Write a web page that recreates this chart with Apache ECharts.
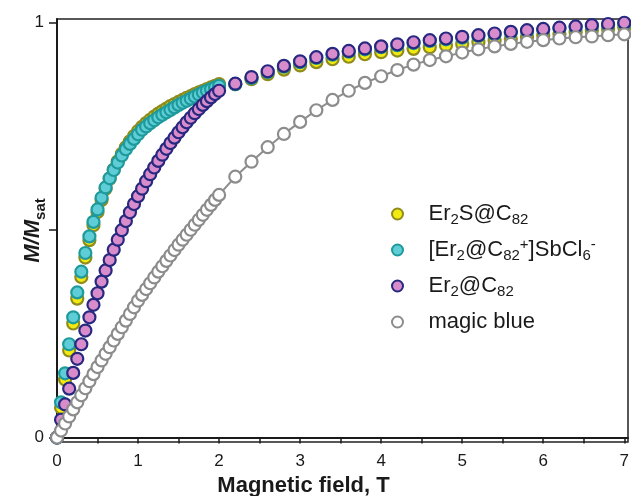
<!DOCTYPE html>
<html><head><meta charset="utf-8">
<script src="https://cdn.jsdelivr.net/npm/echarts@6/dist/echarts.min.js"></script>
<style>html,body{margin:0;padding:0;background:#fff}#c{width:631px;height:496px}</style>
</head><body><div id="c"></div>
<script>
// Magnetic field (T)
const fieldLow = [0,0.05,0.1,0.15,0.2,0.25,0.3,0.35,0.4,0.45,0.5,0.55,0.6,0.65,0.7,0.75,0.8,0.85,0.9,0.95,
  1.0,1.05,1.1,1.15,1.2,1.25,1.3,1.35,1.4,1.45,1.5,1.55,1.6,1.65,1.7,1.75,1.8,1.85,1.9,1.95,2.0];
const fieldHigh = [2.2,2.4,2.6,2.8,3.0,3.2,3.4,3.6,3.8,4.0,4.2,4.4,4.6,4.8,5.0,5.2,5.4,5.6,5.8,6.0,6.2,6.4,6.6,6.8,7.0];

// Er2S@C82
const er2sLow = [0,0.072,0.14,0.21,0.275,0.335,0.387,0.434,0.476,0.512,0.544,0.573,0.6,0.624,0.646,0.666,0.684,0.7,0.714,0.727,
  0.739,0.749,0.758,0.766,0.774,0.781,0.787,0.793,0.799,0.804,0.809,0.814,0.819,0.823,0.828,0.832,0.836,0.84,0.844,0.848,0.852];
const er2sHigh = [0.852,0.864,0.876,0.887,0.897,0.905,0.912,0.918,0.924,0.929,0.933,0.937,0.941,0.945,0.949,0.953,0.957,0.961,0.965,0.969,0.973,0.977,0.981,0.985,0.989];

// [Er2@C82+]SbCl6-
const cationLow = [0,0.085,0.155,0.225,0.29,0.35,0.4,0.445,0.485,0.52,0.55,0.578,0.603,0.625,0.645,0.663,0.68,0.695,0.708,0.72,
  0.731,0.742,0.75,0.758,0.765,0.772,0.778,0.784,0.79,0.796,0.802,0.807,0.812,0.817,0.822,0.827,0.832,0.836,0.84,0.844,0.848];
const cationHigh = [0.852,0.867,0.881,0.894,0.905,0.915,0.923,0.93,0.936,0.941,0.946,0.951,0.956,0.96,0.964,0.968,0.972,0.976,0.98,0.983,0.986,0.989,0.992,0.995,0.998];

// Er2@C82
const er2Low = [0,0.043,0.08,0.118,0.156,0.19,0.225,0.258,0.29,0.32,0.348,0.376,0.403,0.428,0.453,0.477,0.5,0.522,0.543,0.563,
  0.582,0.6,0.618,0.635,0.651,0.667,0.682,0.696,0.71,0.723,0.736,0.748,0.76,0.771,0.782,0.792,0.802,0.811,0.82,0.828,0.836];
const er2High = [0.853,0.869,0.883,0.896,0.907,0.917,0.925,0.932,0.938,0.943,0.948,0.953,0.958,0.962,0.966,0.97,0.974,0.978,0.982,0.985,0.988,0.991,0.994,0.997,1.0];

// magic blue
const magicLow = [0,0.017,0.034,0.051,0.068,0.085,0.102,0.119,0.136,0.153,0.17,0.186,0.202,0.218,0.234,0.25,0.266,0.282,0.298,0.314,
  0.33,0.344,0.358,0.372,0.386,0.4,0.413,0.426,0.439,0.452,0.465,0.477,0.489,0.501,0.513,0.525,0.537,0.549,0.561,0.573,0.585];
const magicHigh = [0.629,0.665,0.7,0.732,0.761,0.789,0.814,0.836,0.855,0.871,0.886,0.899,0.91,0.919,0.928,0.936,0.943,0.949,0.954,0.958,0.962,0.965,0.967,0.97,0.972];

const seriesNames = ['Er2S@C82', '[Er2@C82+]SbCl6-', 'Er2@C82', 'magic blue'];
const legendRich = {
  'Er2S@C82': 'Er{sub|2}S@C{sub|82}',
  '[Er2@C82+]SbCl6-': '[Er{sub|2}@C{sub|82}{sup|+}]SbCl{sub|6}{sup|-}',
  'Er2@C82': 'Er{sub|2}@C{sub|82}',
  'magic blue': 'magic blue'
};
const xTickValues = [0,0.5,1,1.5,2,2.5,3,3.5,4,4.5,5,5.5,6,6.5,7];
const xLabelValues = [0,1,2,3,4,5,6,7];
const yTickValues = [0,0.5,1];
const yLabelValues = [0,1];

const FONT = "'Liberation Sans', Arial, sans-serif";
function pairs(xs, ys) { return xs.map((x, i) => [x, ys[i]]); }

const chart = echarts.init(document.getElementById('c'), null, {renderer: 'canvas'});
const scatterStyle = (fill, border) => ({
  type: 'scatter', symbol: 'circle', symbolSize: 12,
  itemStyle: {color: fill, borderColor: border, borderWidth: 2.2, opacity: 1},
  emphasis: {disabled: true}, animation: false
});

chart.setOption({
  animation: false,
  backgroundColor: '#fff',
  grid: {left: 57, right: 3, top: 19, bottom: 54, show: true, borderColor: '#222', borderWidth: 1.5,
         containLabel: false, outerBoundsMode: 'none'},
  xAxis: {
    type: 'value', min: 0, max: 7.046,
    name: 'Magnetic field, T', nameLocation: 'middle', nameGap: 33, nameMoveOverlap: false,
    nameTextStyle: {fontFamily: FONT, fontSize: 22, fontWeight: 'bold', color: '#1a1a1a', padding: [0, 78, 0, 0]},
    axisLine: {show: true, lineStyle: {color: '#1a1a1a', width: 2}},
    axisTick: {show: true, inside: false, length: 6, lineStyle: {color: '#1a1a1a', width: 1.5}, customValues: xTickValues},
    axisLabel: {show: true, margin: 11, fontFamily: FONT, fontSize: 17, color: '#1a1a1a', customValues: xLabelValues},
    splitLine: {show: false}
  },
  yAxis: {
    type: 'value', min: -0.0106, max: 1.009,
    name: '{it|M/M}{sub|sat}', nameLocation: 'middle', nameGap: 9, nameRotate: 90, nameMoveOverlap: false,
    nameTextStyle: {
      fontFamily: FONT, color: '#1a1a1a',
      rich: {
        it: {fontFamily: FONT, fontSize: 22, fontStyle: 'italic', fontWeight: 'bold', color: '#1a1a1a', lineHeight: 30, verticalAlign: 'middle'},
        sub: {fontFamily: FONT, fontSize: 15, fontWeight: 'bold', color: '#1a1a1a', lineHeight: 10, verticalAlign: 'bottom'}
      }
    },
    axisLine: {show: true, lineStyle: {color: '#1a1a1a', width: 2}},
    axisTick: {show: true, inside: false, length: 8, lineStyle: {color: '#1a1a1a', width: 1.5}, customValues: yTickValues},
    axisLabel: {show: true, margin: 13, fontFamily: FONT, fontSize: 17, color: '#1a1a1a', customValues: yLabelValues},
    splitLine: {show: false}
  },
  legend: {
    orient: 'vertical', left: 386, top: 196, itemGap: 10,
    itemWidth: 52, itemHeight: 11, icon: 'circle',
    data: seriesNames,
    formatter: (name) => legendRich[name],
    textStyle: {
      fontFamily: FONT, fontSize: 22, color: '#1a1a1a', lineHeight: 26,
      rich: {
        sub: {fontFamily: FONT, fontSize: 15, color: '#1a1a1a', lineHeight: 12, verticalAlign: 'bottom'},
        sup: {fontFamily: FONT, fontSize: 15, color: '#1a1a1a', lineHeight: 12, verticalAlign: 'top'}
      }
    },
    selectedMode: false
  },
  series: [
    Object.assign({name: seriesNames[0], data: pairs(fieldLow.concat(fieldHigh), er2sLow.concat(er2sHigh)), z: 2}, scatterStyle('#f2ea10', '#8f8c1c')),
    Object.assign({name: seriesNames[1], data: pairs(fieldLow.concat(fieldHigh), cationLow.concat(cationHigh)), z: 3}, scatterStyle('#5fcdd6', '#1e9a9c')),
    Object.assign({name: seriesNames[2], data: pairs(fieldLow.concat(fieldHigh), er2Low.concat(er2High)), z: 4}, scatterStyle('#d88ccb', '#27287f')),
    {
      name: seriesNames[3], type: 'line', z: 5,
      data: pairs(fieldLow.concat(fieldHigh), magicLow.concat(magicHigh)),
      symbol: 'circle', symbolSize: 12, showSymbol: true, showAllSymbol: true,
      lineStyle: {color: '#8c8c8c', width: 2},
      itemStyle: {color: '#ffffff', borderColor: '#8c8c8c', borderWidth: 2.2},
      emphasis: {disabled: true}, animation: false
    }
  ]
});
</script>
</body></html>
